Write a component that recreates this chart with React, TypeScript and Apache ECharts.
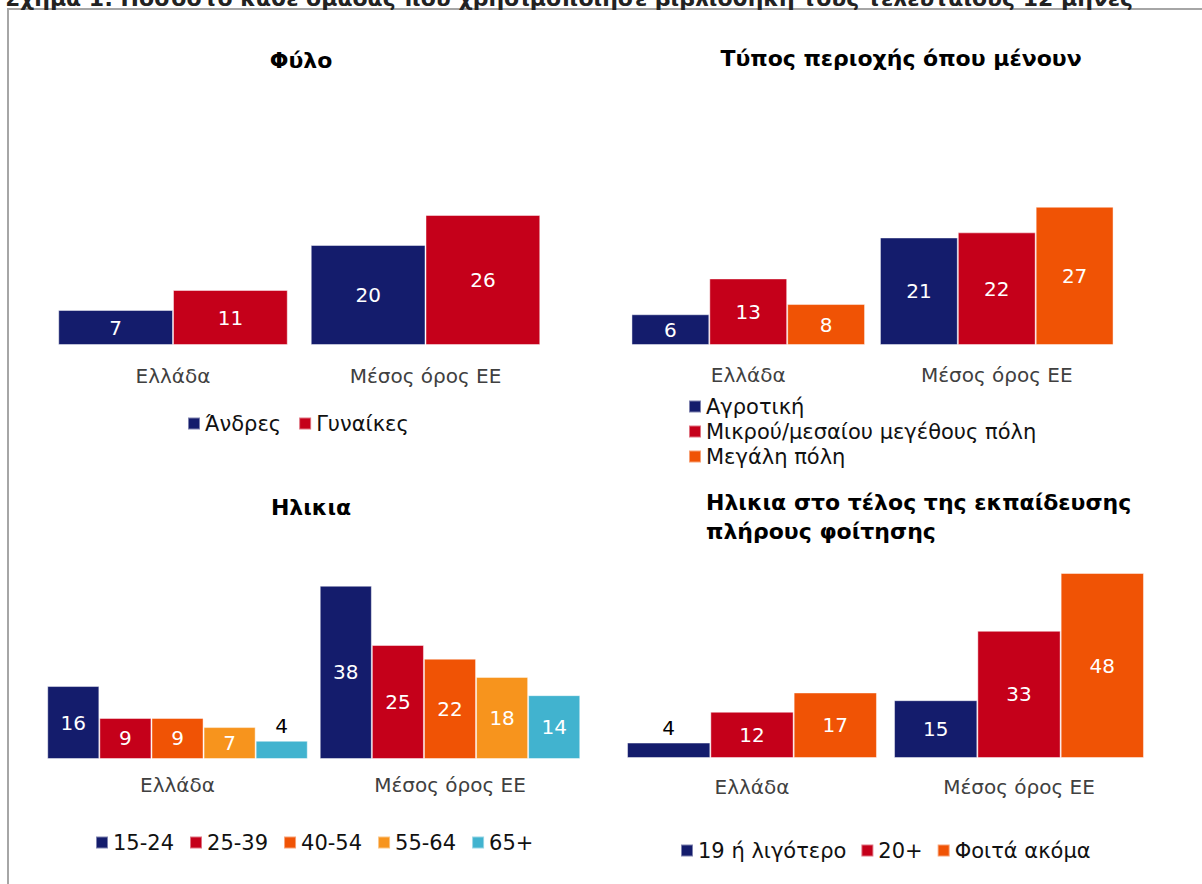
import React, { useEffect, useRef } from "react";
import * as echarts from "echarts";

const categories = ["Ελλάδα", "Μέσος όρος ΕΕ"];

const genderNames = ["Άνδρες", "Γυναίκες"];
const genderValues = [
  [7, 20],
  [11, 26],
];

const areaNames = ["Αγροτική", "Μικρού/μεσαίου μεγέθους πόλη", "Μεγάλη πόλη"];
const areaValues = [
  [6, 21],
  [13, 22],
  [8, 27],
];

const ageNames = ["15-24", "25-39", "40-54", "55-64", "65+"];
const ageValues = [
  [16, 38],
  [9, 25],
  [9, 22],
  [7, 18],
  [4, 14],
];

const eduNames = ["19 ή λιγότερο", "20+", "Φοιτά ακόμα"];
const eduValues = [
  [4, 15],
  [12, 33],
  [17, 48],
];

const NAVY = "#141c6c";
const RED = "#c5001a";
const ORANGE = "#f05305";
const LORANGE = "#f7941d";
const CYAN = "#41b3cf";

const FONT = "DejaVu Sans";

const panels = [
  { names: genderNames, values: genderValues, colors: [NAVY, RED], grid: { left: 46.75, top: 145, width: 505, height: 200 }, max: 40, gap: "9.1%", labelMargin: 21 },
  { names: areaNames, values: areaValues, colors: [NAVY, RED, ORANGE], grid: { left: 624, top: 140.2, width: 497, height: 204.8 }, max: 40, gap: "6%", labelMargin: 20 },
  { names: ageNames, values: ageValues, colors: [NAVY, RED, ORANGE, LORANGE, CYAN], grid: { left: 41.25, top: 531, width: 545, height: 228 }, max: 50, gap: "4.4%", labelMargin: 16 },
  { names: eduNames, values: eduValues, colors: [NAVY, RED, ORANGE], grid: { left: 618.5, top: 526.75, width: 534, height: 231.25 }, max: 60, gap: "6.4%", labelMargin: 19 },
];

export default function App() {
  const ref = useRef<HTMLDivElement>(null);
  useEffect(() => {
    if (!ref.current) return;
    const chart = echarts.init(ref.current, undefined, { renderer: "svg" });

    const series: any[] = [];
    panels.forEach((p, pi) => {
      p.names.forEach((name, si) => {
        series.push({
          type: "bar",
          name,
          xAxisIndex: pi,
          yAxisIndex: pi,
          barGap: "0%",
          barCategoryGap: p.gap,
          itemStyle: { color: p.colors[si], borderColor: "rgba(255,255,255,0.45)", borderWidth: 1 },
          label: {
            show: true,
            position: "inside",
            color: "#fff",
            fontFamily: FONT,
            fontSize: 20,
          },
          data: p.values[si].map((v) =>
            v < 5 ? { value: v, label: { position: "top", color: "#000", distance: 5 } } : v
          ),
        });
      });
    });

    const legendText = { color: "#111", fontFamily: FONT, fontSize: 21 };
    const legendBase = { icon: "rect", itemWidth: 12, itemHeight: 12, padding: 0, textStyle: legendText, selectedMode: false };

    const option: any = {
      animation: false,
      grid: panels.map((p) => ({ ...p.grid, containLabel: false })),
      xAxis: panels.map((p, i) => ({
        type: "category",
        gridIndex: i,
        data: categories,
        axisLine: { show: false },
        axisTick: { show: false },
        axisLabel: { color: "#404040", fontFamily: FONT, fontSize: 20, margin: p.labelMargin },
      })),
      yAxis: panels.map((p, i) => ({
        type: "value",
        gridIndex: i,
        min: 0,
        max: p.max,
        show: false,
        splitLine: { show: false },
      })),
      legend: [
        { ...legendBase, data: genderNames, left: 187, top: 413, itemGap: 17 },
        { ...legendBase, data: areaNames, left: 688, top: 396, orient: "vertical", itemGap: 4 },
        { ...legendBase, data: ageNames, left: 95, top: 832, itemGap: 15 },
        { ...legendBase, data: eduNames, left: 680, top: 840, itemGap: 14 },
      ],
      graphic: [
        { type: "rect", shape: { x: 8, y: 9, width: 1400, height: 1000 }, style: { fill: "none", stroke: "#a6a6a6", lineWidth: 2 }, silent: true },
        { type: "text", x: 5, y: 9.5, style: { text: "Σχήμα 1: Ποσοστό κάθε ομάδας που χρησιμοποίησε βιβλιοθήκη τους τελευταίους 12 μήνες", font: `bold 22px "${FONT}"`, fill: "#222", align: "left", verticalAlign: "bottom" } },
        { type: "text", x: 301, y: 60, style: { text: "Φύλο", font: `bold 22px "${FONT}"`, fill: "#000", align: "center", verticalAlign: "middle" } },
        { type: "text", x: 901, y: 58, style: { text: "Τύπος περιοχής όπου μένουν", font: `bold 22px "${FONT}"`, fill: "#000", align: "center", verticalAlign: "middle" } },
        { type: "text", x: 311, y: 507, style: { text: "Ηλικια", font: `bold 22px "${FONT}"`, fill: "#000", align: "center", verticalAlign: "middle" } },
        { type: "text", x: 706, y: 488, style: { text: "Ηλικια στο τέλος της εκπαίδευσης\nπλήρους φοίτησης", font: `bold 22px "${FONT}"`, lineHeight: 29, fill: "#000", align: "left", verticalAlign: "top" } },
      ],
      series,
    };
    chart.setOption(option);
    return () => chart.dispose();
  }, []);
  return (
    <div
      ref={ref}
      style={{ position: "fixed", left: 0, top: 0, width: 1202, height: 884, background: "#fff" }}
    />
  );
}
